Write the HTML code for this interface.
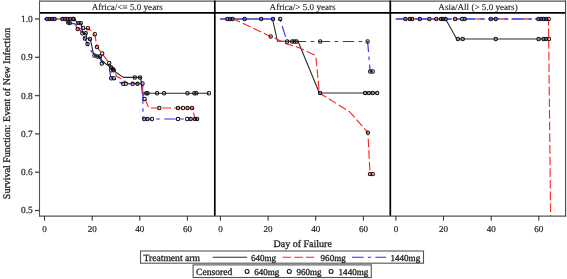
<!DOCTYPE html>
<html><head><meta charset="utf-8"><style>
html,body{margin:0;padding:0;background:#fff;}
body{width:567px;height:279px;overflow:hidden;font-family:"Liberation Serif",serif;}
svg{display:block;will-change:transform;}
text{stroke:#222;stroke-width:0.3px;}
</style></head><body>
<svg width="567" height="279" viewBox="0 0 567 279" font-family='"Liberation Serif", serif' fill="#222" text-rendering="geometricPrecision">
<polyline points="44.5,19.0 75.0,19.0" fill="none" stroke="#7a7a7a" stroke-width="2.0" stroke-linejoin="round"/>
<polyline points="75.0,19.0 77.0,23.1 80.8,23.1 82.0,28.0 82.6,33.3 85.8,33.3 87.0,38.5 90.0,38.9 91.4,44.0 93.2,52.6 94.5,55.5 100.0,56.5 101.5,60.0 106.0,64.0 111.2,67.5 115.9,72.2 123.2,77.4 140.8,77.4 142.3,93.2 209.0,93.2" fill="none" stroke="#2a2a2a" stroke-width="1.1" stroke-linejoin="round"/>
<polyline points="44.5,19.0 74.0,19.0" fill="none" stroke="#ff6a6a" stroke-width="2.0" stroke-dasharray="8.65,3" stroke-dashoffset="0" stroke-linejoin="round"/>
<polyline points="74.0,19.0 74.6,21.2 76.9,28.9 80.1,28.6 88.5,28.6 93.1,32.9 95.2,35.9 96.1,42.3 97.0,47.0 108.6,62.1 111.2,66.4 114.2,70.9 116.8,76.5 120.6,78.6 125.8,82.0 128.0,83.8 142.3,83.9 143.0,94.0 145.0,99.0 148.0,106.0 149.0,108.0 192.5,108.0 195.0,119.0" fill="none" stroke="#ff2020" stroke-width="1.1" stroke-dasharray="8.65,3" stroke-dashoffset="29.5" stroke-linejoin="round"/>
<polyline points="44.5,19.0 66.0,19.0" fill="none" stroke="#6060f8" stroke-width="2.0" stroke-dasharray="11.4,4.5,3.6,4.5" stroke-dashoffset="0" stroke-linejoin="round"/>
<polyline points="66.0,19.0 67.5,22.5 70.5,23.1 75.9,24.1 78.0,27.0 81.5,32.3 84.9,38.5 87.5,44.1 89.2,47.5 93.0,54.0 97.5,56.5 100.0,58.6 101.8,62.5 103.4,63.6 108.6,64.5 109.9,68.3 110.3,75.2 111.2,78.2 116.0,79.5 118.5,82.0 123.0,83.8 142.8,83.8 143.0,119.0 198.5,119.0" fill="none" stroke="#2a2aff" stroke-width="1.1" stroke-dasharray="11.4,4.5,3.6,4.5" stroke-dashoffset="21.5" stroke-linejoin="round"/>
<polyline points="220.4,19.0 272.5,19.0" fill="none" stroke="#7a7a7a" stroke-width="2.0" stroke-linejoin="round"/>
<polyline points="272.5,19.0 277.5,41.3 298.0,41.2 319.4,93.0 377.5,93.0" fill="none" stroke="#2a2a2a" stroke-width="1.1" stroke-linejoin="round"/>
<polyline points="220.4,19.0 233.4,19.0" fill="none" stroke="#ff6a6a" stroke-width="2.0" stroke-dasharray="8.65,3" stroke-dashoffset="0" stroke-linejoin="round"/>
<polyline points="233.4,19.0 270.7,36.4 274.3,37.9 285.8,43.6 298.0,47.2 314.4,55.1 315.9,57.2 319.4,93.0 349.7,111.8 367.9,132.6 370.0,174.1 372.8,174.1" fill="none" stroke="#ff2020" stroke-width="1.1" stroke-dasharray="8.65,3" stroke-dashoffset="13.0" stroke-linejoin="round"/>
<polyline points="220.4,19.0 280.0,19.0" fill="none" stroke="#6060f8" stroke-width="2.0" stroke-dasharray="11.4,4.5,3.6,4.5" stroke-dashoffset="5.04" stroke-linejoin="round"/>
<polyline points="280.0,19.0 287.0,41.5 367.6,41.5 370.2,71.4 372.7,71.4" fill="none" stroke="#2a2aff" stroke-width="1.1" stroke-dasharray="11.4,4.5,3.6,4.5" stroke-dashoffset="64.64" stroke-linejoin="round"/>
<polyline points="395.9,19.0 445.6,19.0" fill="none" stroke="#7a7a7a" stroke-width="2.0" stroke-linejoin="round"/>
<polyline points="445.6,19.0 456.7,39.0 549.2,39.0" fill="none" stroke="#2a2a2a" stroke-width="1.1" stroke-linejoin="round"/>
<polyline points="395.9,19.0 548.5,19.0" fill="none" stroke="#ff6a6a" stroke-width="2.0" stroke-dasharray="8.65,3" stroke-dashoffset="1.0" stroke-linejoin="round"/>
<polyline points="548.5,19.0 550.6,216.0" fill="none" stroke="#ff2020" stroke-width="1.1" stroke-dasharray="8.65,3" stroke-dashoffset="153.6" stroke-linejoin="round"/>
<polyline points="395.9,19.0 549.2,19.0" fill="none" stroke="#6060f8" stroke-width="2.0" stroke-dasharray="11.4,4.5,3.6,4.5" stroke-dashoffset="3.6" stroke-linejoin="round"/>
<circle cx="47.1" cy="19.0" r="1.7" fill="none" stroke="#111" stroke-width="1.05"/>
<circle cx="49.6" cy="19.0" r="1.7" fill="none" stroke="#111" stroke-width="1.05"/>
<circle cx="52.1" cy="19.0" r="1.7" fill="none" stroke="#111" stroke-width="1.05"/>
<circle cx="54.6" cy="19.0" r="1.7" fill="none" stroke="#111" stroke-width="1.05"/>
<circle cx="62.4" cy="19.0" r="1.7" fill="none" stroke="#111" stroke-width="1.05"/>
<circle cx="65.0" cy="19.0" r="1.7" fill="none" stroke="#111" stroke-width="1.05"/>
<circle cx="67.6" cy="19.0" r="1.7" fill="none" stroke="#111" stroke-width="1.05"/>
<circle cx="70.2" cy="19.0" r="1.7" fill="none" stroke="#111" stroke-width="1.05"/>
<circle cx="72.8" cy="19.0" r="1.7" fill="none" stroke="#111" stroke-width="1.05"/>
<circle cx="73.6" cy="19.0" r="1.7" fill="none" stroke="#111" stroke-width="1.05"/>
<circle cx="68.2" cy="22.5" r="1.7" fill="none" stroke="#111" stroke-width="1.05"/>
<circle cx="69.8" cy="23.1" r="1.7" fill="none" stroke="#111" stroke-width="1.05"/>
<circle cx="78.5" cy="23.1" r="1.7" fill="none" stroke="#111" stroke-width="1.05"/>
<circle cx="80.8" cy="23.1" r="1.7" fill="none" stroke="#111" stroke-width="1.05"/>
<circle cx="77.7" cy="29.0" r="1.7" fill="none" stroke="#111" stroke-width="1.05"/>
<circle cx="83.1" cy="28.0" r="1.7" fill="none" stroke="#111" stroke-width="1.05"/>
<circle cx="87.9" cy="28.2" r="1.7" fill="none" stroke="#111" stroke-width="1.05"/>
<circle cx="82.3" cy="33.3" r="1.7" fill="none" stroke="#111" stroke-width="1.05"/>
<circle cx="85.7" cy="33.3" r="1.7" fill="none" stroke="#111" stroke-width="1.05"/>
<circle cx="84.9" cy="38.5" r="1.7" fill="none" stroke="#111" stroke-width="1.05"/>
<circle cx="90.0" cy="38.9" r="1.7" fill="none" stroke="#111" stroke-width="1.05"/>
<circle cx="87.5" cy="44.1" r="1.7" fill="none" stroke="#111" stroke-width="1.05"/>
<circle cx="94.8" cy="34.2" r="1.7" fill="none" stroke="#111" stroke-width="1.05"/>
<circle cx="97.0" cy="47.0" r="1.7" fill="none" stroke="#111" stroke-width="1.05"/>
<circle cx="102.2" cy="53.5" r="1.7" fill="none" stroke="#111" stroke-width="1.05"/>
<circle cx="94.5" cy="55.4" r="1.7" fill="none" stroke="#111" stroke-width="1.05"/>
<circle cx="97.5" cy="56.5" r="1.7" fill="none" stroke="#111" stroke-width="1.05"/>
<circle cx="100.0" cy="56.5" r="1.7" fill="none" stroke="#111" stroke-width="1.05"/>
<circle cx="101.8" cy="63.4" r="1.7" fill="none" stroke="#111" stroke-width="1.05"/>
<circle cx="109.2" cy="63.0" r="1.7" fill="none" stroke="#111" stroke-width="1.05"/>
<circle cx="111.2" cy="67.5" r="1.7" fill="none" stroke="#111" stroke-width="1.05"/>
<circle cx="112.9" cy="69.2" r="1.7" fill="none" stroke="#111" stroke-width="1.05"/>
<circle cx="111.2" cy="70.3" r="1.7" fill="none" stroke="#111" stroke-width="1.05"/>
<circle cx="113.8" cy="70.3" r="1.7" fill="none" stroke="#111" stroke-width="1.05"/>
<circle cx="111.2" cy="78.2" r="1.7" fill="none" stroke="#111" stroke-width="1.05"/>
<circle cx="113.8" cy="78.2" r="1.7" fill="none" stroke="#111" stroke-width="1.05"/>
<circle cx="134.8" cy="77.4" r="1.7" fill="none" stroke="#111" stroke-width="1.05"/>
<circle cx="140.0" cy="77.4" r="1.7" fill="none" stroke="#111" stroke-width="1.05"/>
<circle cx="123.2" cy="83.8" r="1.7" fill="none" stroke="#111" stroke-width="1.05"/>
<circle cx="125.8" cy="83.8" r="1.7" fill="none" stroke="#111" stroke-width="1.05"/>
<circle cx="132.6" cy="83.8" r="1.7" fill="none" stroke="#111" stroke-width="1.05"/>
<circle cx="137.5" cy="83.8" r="1.7" fill="none" stroke="#111" stroke-width="1.05"/>
<circle cx="142.5" cy="83.5" r="1.7" fill="none" stroke="#111" stroke-width="1.05"/>
<circle cx="146.3" cy="93.2" r="1.7" fill="none" stroke="#111" stroke-width="1.05"/>
<circle cx="147.5" cy="93.2" r="1.7" fill="none" stroke="#111" stroke-width="1.05"/>
<circle cx="157.0" cy="93.2" r="1.7" fill="none" stroke="#111" stroke-width="1.05"/>
<circle cx="164.1" cy="93.2" r="1.7" fill="none" stroke="#111" stroke-width="1.05"/>
<circle cx="187.5" cy="93.2" r="1.7" fill="none" stroke="#111" stroke-width="1.05"/>
<circle cx="194.4" cy="93.2" r="1.7" fill="none" stroke="#111" stroke-width="1.05"/>
<circle cx="196.3" cy="93.2" r="1.7" fill="none" stroke="#111" stroke-width="1.05"/>
<circle cx="208.9" cy="93.2" r="1.7" fill="none" stroke="#111" stroke-width="1.05"/>
<circle cx="144.6" cy="99.0" r="1.7" fill="none" stroke="#111" stroke-width="1.05"/>
<circle cx="159.3" cy="108.0" r="1.7" fill="none" stroke="#111" stroke-width="1.05"/>
<circle cx="178.0" cy="108.0" r="1.7" fill="none" stroke="#111" stroke-width="1.05"/>
<circle cx="183.0" cy="108.0" r="1.7" fill="none" stroke="#111" stroke-width="1.05"/>
<circle cx="187.5" cy="108.0" r="1.7" fill="none" stroke="#111" stroke-width="1.05"/>
<circle cx="192.1" cy="108.0" r="1.7" fill="none" stroke="#111" stroke-width="1.05"/>
<circle cx="144.2" cy="119.0" r="1.7" fill="none" stroke="#111" stroke-width="1.05"/>
<circle cx="147.4" cy="119.0" r="1.7" fill="none" stroke="#111" stroke-width="1.05"/>
<circle cx="151.9" cy="119.0" r="1.7" fill="none" stroke="#111" stroke-width="1.05"/>
<circle cx="178.0" cy="119.0" r="1.7" fill="none" stroke="#111" stroke-width="1.05"/>
<circle cx="187.2" cy="119.0" r="1.7" fill="none" stroke="#111" stroke-width="1.05"/>
<circle cx="190.7" cy="119.0" r="1.7" fill="none" stroke="#111" stroke-width="1.05"/>
<circle cx="195.0" cy="119.0" r="1.7" fill="none" stroke="#111" stroke-width="1.05"/>
<circle cx="197.1" cy="119.0" r="1.7" fill="none" stroke="#111" stroke-width="1.05"/>
<circle cx="227.3" cy="19.0" r="1.7" fill="none" stroke="#111" stroke-width="1.05"/>
<circle cx="229.9" cy="19.0" r="1.7" fill="none" stroke="#111" stroke-width="1.05"/>
<circle cx="232.5" cy="19.0" r="1.7" fill="none" stroke="#111" stroke-width="1.05"/>
<circle cx="244.6" cy="19.0" r="1.7" fill="none" stroke="#111" stroke-width="1.05"/>
<circle cx="261.2" cy="19.0" r="1.7" fill="none" stroke="#111" stroke-width="1.05"/>
<circle cx="273.0" cy="19.0" r="1.7" fill="none" stroke="#111" stroke-width="1.05"/>
<circle cx="280.2" cy="19.0" r="1.7" fill="none" stroke="#111" stroke-width="1.05"/>
<circle cx="270.7" cy="36.4" r="1.7" fill="none" stroke="#111" stroke-width="1.05"/>
<circle cx="287.2" cy="41.5" r="1.7" fill="none" stroke="#111" stroke-width="1.05"/>
<circle cx="292.2" cy="41.5" r="1.7" fill="none" stroke="#111" stroke-width="1.05"/>
<circle cx="294.4" cy="41.5" r="1.7" fill="none" stroke="#111" stroke-width="1.05"/>
<circle cx="296.5" cy="41.5" r="1.7" fill="none" stroke="#111" stroke-width="1.05"/>
<circle cx="320.2" cy="41.5" r="1.7" fill="none" stroke="#111" stroke-width="1.05"/>
<circle cx="367.6" cy="41.5" r="1.7" fill="none" stroke="#111" stroke-width="1.05"/>
<circle cx="320.1" cy="93.0" r="1.7" fill="none" stroke="#111" stroke-width="1.05"/>
<circle cx="365.1" cy="93.0" r="1.7" fill="none" stroke="#111" stroke-width="1.05"/>
<circle cx="368.9" cy="93.0" r="1.7" fill="none" stroke="#111" stroke-width="1.05"/>
<circle cx="372.7" cy="93.0" r="1.7" fill="none" stroke="#111" stroke-width="1.05"/>
<circle cx="377.2" cy="93.0" r="1.7" fill="none" stroke="#111" stroke-width="1.05"/>
<circle cx="370.2" cy="71.4" r="1.7" fill="none" stroke="#111" stroke-width="1.05"/>
<circle cx="372.7" cy="71.4" r="1.7" fill="none" stroke="#111" stroke-width="1.05"/>
<circle cx="367.9" cy="132.6" r="1.7" fill="none" stroke="#111" stroke-width="1.05"/>
<circle cx="370.0" cy="174.1" r="1.7" fill="none" stroke="#111" stroke-width="1.05"/>
<circle cx="372.8" cy="174.1" r="1.7" fill="none" stroke="#111" stroke-width="1.05"/>
<circle cx="405.4" cy="19.0" r="1.7" fill="none" stroke="#111" stroke-width="1.05"/>
<circle cx="409.8" cy="19.0" r="1.7" fill="none" stroke="#111" stroke-width="1.05"/>
<circle cx="412.2" cy="19.0" r="1.7" fill="none" stroke="#111" stroke-width="1.05"/>
<circle cx="419.8" cy="19.0" r="1.7" fill="none" stroke="#111" stroke-width="1.05"/>
<circle cx="429.4" cy="19.0" r="1.7" fill="none" stroke="#111" stroke-width="1.05"/>
<circle cx="436.3" cy="19.0" r="1.7" fill="none" stroke="#111" stroke-width="1.05"/>
<circle cx="441.1" cy="19.0" r="1.7" fill="none" stroke="#111" stroke-width="1.05"/>
<circle cx="443.2" cy="19.0" r="1.7" fill="none" stroke="#111" stroke-width="1.05"/>
<circle cx="445.6" cy="19.0" r="1.7" fill="none" stroke="#111" stroke-width="1.05"/>
<circle cx="455.1" cy="19.0" r="1.7" fill="none" stroke="#111" stroke-width="1.05"/>
<circle cx="462.2" cy="19.0" r="1.7" fill="none" stroke="#111" stroke-width="1.05"/>
<circle cx="464.6" cy="19.0" r="1.7" fill="none" stroke="#111" stroke-width="1.05"/>
<circle cx="490.9" cy="19.0" r="1.7" fill="none" stroke="#111" stroke-width="1.05"/>
<circle cx="495.7" cy="19.0" r="1.7" fill="none" stroke="#111" stroke-width="1.05"/>
<circle cx="538.4" cy="19.0" r="1.7" fill="none" stroke="#111" stroke-width="1.05"/>
<circle cx="541.0" cy="19.0" r="1.7" fill="none" stroke="#111" stroke-width="1.05"/>
<circle cx="543.6" cy="19.0" r="1.7" fill="none" stroke="#111" stroke-width="1.05"/>
<circle cx="546.1" cy="19.0" r="1.7" fill="none" stroke="#111" stroke-width="1.05"/>
<circle cx="548.7" cy="19.0" r="1.7" fill="none" stroke="#111" stroke-width="1.05"/>
<circle cx="457.9" cy="39.0" r="1.7" fill="none" stroke="#111" stroke-width="1.05"/>
<circle cx="462.7" cy="39.0" r="1.7" fill="none" stroke="#111" stroke-width="1.05"/>
<circle cx="495.7" cy="39.0" r="1.7" fill="none" stroke="#111" stroke-width="1.05"/>
<circle cx="538.6" cy="39.0" r="1.7" fill="none" stroke="#111" stroke-width="1.05"/>
<circle cx="543.5" cy="39.0" r="1.7" fill="none" stroke="#111" stroke-width="1.05"/>
<circle cx="545.8" cy="39.0" r="1.7" fill="none" stroke="#111" stroke-width="1.05"/>
<circle cx="548.9" cy="39.0" r="1.7" fill="none" stroke="#111" stroke-width="1.05"/>
<line x1="39.0" y1="1.2" x2="566.1" y2="1.2" stroke="#555" stroke-width="1.3"/>
<line x1="39.5" y1="12.8" x2="565.6" y2="12.8" stroke="#000" stroke-width="1.8"/>
<line x1="39.5" y1="0.6" x2="39.5" y2="216.5" stroke="#555" stroke-width="1.1"/>
<line x1="565.6" y1="0.6" x2="565.6" y2="216.5" stroke="#444" stroke-width="1.1"/>
<line x1="214.8" y1="0.6" x2="214.8" y2="216.0" stroke="#000" stroke-width="1.7"/>
<line x1="390.3" y1="0.6" x2="390.3" y2="216.0" stroke="#000" stroke-width="1.7"/>
<line x1="39.0" y1="216.2" x2="566.1" y2="216.2" stroke="#555" stroke-width="1.3"/>
<line x1="35" y1="19.0" x2="39.5" y2="19.0" stroke="#444" stroke-width="1.3"/>
<text x="32.7" y="21.9" text-anchor="end" font-size="9.4" style="stroke-width:0.18px">1.0</text>
<line x1="35" y1="57.3" x2="39.5" y2="57.3" stroke="#444" stroke-width="1.3"/>
<text x="32.7" y="60.2" text-anchor="end" font-size="9.4" style="stroke-width:0.18px">0.9</text>
<line x1="35" y1="95.6" x2="39.5" y2="95.6" stroke="#444" stroke-width="1.3"/>
<text x="32.7" y="98.5" text-anchor="end" font-size="9.4" style="stroke-width:0.18px">0.8</text>
<line x1="35" y1="133.9" x2="39.5" y2="133.9" stroke="#444" stroke-width="1.3"/>
<text x="32.7" y="136.8" text-anchor="end" font-size="9.4" style="stroke-width:0.18px">0.7</text>
<line x1="35" y1="172.2" x2="39.5" y2="172.2" stroke="#444" stroke-width="1.3"/>
<text x="32.7" y="175.1" text-anchor="end" font-size="9.4" style="stroke-width:0.18px">0.6</text>
<line x1="35" y1="210.5" x2="39.5" y2="210.5" stroke="#444" stroke-width="1.3"/>
<text x="32.7" y="213.4" text-anchor="end" font-size="9.4" style="stroke-width:0.18px">0.5</text>
<line x1="44.5" y1="216.0" x2="44.5" y2="220.8" stroke="#333" stroke-width="1.05"/>
<text x="44.5" y="232" text-anchor="middle" font-size="9" style="stroke-width:0.18px">0</text>
<line x1="92.2" y1="216.0" x2="92.2" y2="220.8" stroke="#333" stroke-width="1.05"/>
<text x="92.2" y="232" text-anchor="middle" font-size="9" style="stroke-width:0.18px">20</text>
<line x1="139.8" y1="216.0" x2="139.8" y2="220.8" stroke="#333" stroke-width="1.05"/>
<text x="139.8" y="232" text-anchor="middle" font-size="9" style="stroke-width:0.18px">40</text>
<line x1="187.4" y1="216.0" x2="187.4" y2="220.8" stroke="#333" stroke-width="1.05"/>
<text x="187.4" y="232" text-anchor="middle" font-size="9" style="stroke-width:0.18px">60</text>
<line x1="220.4" y1="216.0" x2="220.4" y2="220.8" stroke="#333" stroke-width="1.05"/>
<text x="220.4" y="232" text-anchor="middle" font-size="9" style="stroke-width:0.18px">0</text>
<line x1="268.1" y1="216.0" x2="268.1" y2="220.8" stroke="#333" stroke-width="1.05"/>
<text x="268.1" y="232" text-anchor="middle" font-size="9" style="stroke-width:0.18px">20</text>
<line x1="315.7" y1="216.0" x2="315.7" y2="220.8" stroke="#333" stroke-width="1.05"/>
<text x="315.7" y="232" text-anchor="middle" font-size="9" style="stroke-width:0.18px">40</text>
<line x1="363.4" y1="216.0" x2="363.4" y2="220.8" stroke="#333" stroke-width="1.05"/>
<text x="363.4" y="232" text-anchor="middle" font-size="9" style="stroke-width:0.18px">60</text>
<line x1="395.9" y1="216.0" x2="395.9" y2="220.8" stroke="#333" stroke-width="1.05"/>
<text x="395.9" y="232" text-anchor="middle" font-size="9" style="stroke-width:0.18px">0</text>
<line x1="443.5" y1="216.0" x2="443.5" y2="220.8" stroke="#333" stroke-width="1.05"/>
<text x="443.5" y="232" text-anchor="middle" font-size="9" style="stroke-width:0.18px">20</text>
<line x1="491.2" y1="216.0" x2="491.2" y2="220.8" stroke="#333" stroke-width="1.05"/>
<text x="491.2" y="232" text-anchor="middle" font-size="9" style="stroke-width:0.18px">40</text>
<line x1="538.8" y1="216.0" x2="538.8" y2="220.8" stroke="#333" stroke-width="1.05"/>
<text x="538.8" y="232" text-anchor="middle" font-size="9" style="stroke-width:0.18px">60</text>
<text x="127.2" y="9.7" text-anchor="middle" font-size="9.1" style="stroke-width:0.12px">Africa/&lt;= 5.0 years</text>
<text x="302.6" y="9.7" text-anchor="middle" font-size="9.1" style="stroke-width:0.12px">Africa/&gt; 5.0 years</text>
<text x="478.0" y="9.7" text-anchor="middle" font-size="9.1" style="stroke-width:0.12px">Asia/All (&gt; 5.0 years)</text>
<text x="302.7" y="247.2" text-anchor="middle" font-size="10">Day of Failure</text>
<text transform="translate(9.8,113.5) rotate(-90)" text-anchor="middle" font-size="10">Survival Function: Event of New Infection</text>
<rect x="140.5" y="251" width="283" height="12.2" fill="none" stroke="#555" stroke-width="1.1"/>
<text x="143.5" y="260.5" font-size="9.6">Treatment arm</text>
<line x1="212.8" y1="257.3" x2="247.1" y2="257.3" stroke="#2a2a2a" stroke-width="1.1"/>
<text x="250.9" y="260.5" font-size="9.05">640mg</text>
<line x1="282.6" y1="257.3" x2="314.3" y2="257.3" stroke="#ff2020" stroke-width="1.1" stroke-dasharray="8.65,3"/>
<text x="320.6" y="260.5" font-size="9.05">960mg</text>
<line x1="352" y1="257.3" x2="386" y2="257.3" stroke="#2a2aff" stroke-width="1.1" stroke-dasharray="11.6,4.3,3.2,4.3"/>
<text x="390.5" y="260.5" font-size="9.05">1440mg</text>
<rect x="193.1" y="264.9" width="178.2" height="12.6" fill="none" stroke="#555" stroke-width="1.1"/>
<text x="196" y="274.6" font-size="9.6">Censored</text>
<circle cx="247.1" cy="271.4" r="2.0" fill="none" stroke="#111" stroke-width="1.05"/>
<text x="254.2" y="274.6" font-size="9.05">640mg</text>
<circle cx="289.3" cy="271.4" r="2.0" fill="none" stroke="#111" stroke-width="1.05"/>
<text x="296.4" y="274.6" font-size="9.05">960mg</text>
<circle cx="331.1" cy="271.4" r="2.0" fill="none" stroke="#111" stroke-width="1.05"/>
<text x="338.6" y="274.6" font-size="9.05">1440mg</text>
</svg>
</body></html>
